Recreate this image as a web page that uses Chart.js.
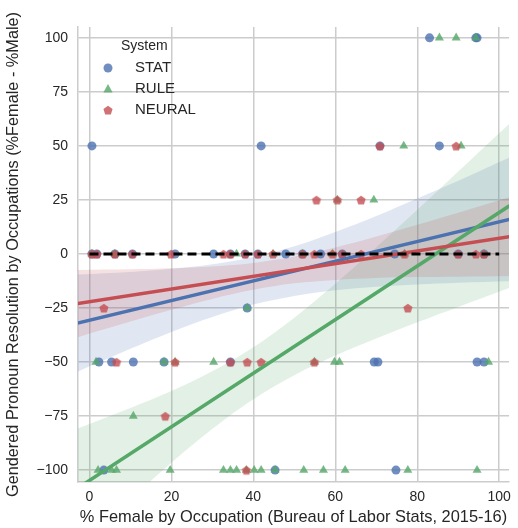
<!DOCTYPE html>
<html>
<head>
<meta charset="utf-8">
<script src="https://cdn.jsdelivr.net/npm/chart.js@4/dist/chart.umd.min.js"></script>
<style>
  html, body { margin: 0; padding: 0; background: #ffffff; }
  #wrap { width: 518px; height: 528px; }
</style>
</head>
<body>
<div id="wrap"><canvas id="chart" width="518" height="528"></canvas></div>
<script>
// ---- Data: % female in occupation vs. gendered pronoun resolution score ----
const systems = ['STAT', 'RULE', 'NEURAL'];

const statX = [83, 94.3, 94.6,
  0.6, 41.9, 70.9, 85.4,
  0.6, 1.8, 6.2, 10.5, 20.9, 30.3, 34.4, 38, 41.1, 47.9, 52, 56.4, 61.7, 74.5, 90, 96.3,
  38.5,
  2.3, 5.4, 10.7, 18.2, 34.4, 69.5, 70.4, 94.6, 96.3,
  3.5, 45.3, 74.8];
const statY = [100, 100, 100,
  50, 50, 50, 50,
  0, 0, 0, 0, 0, 0, 0, 0, 0, 0, 0, 0, 0, 0, 0, 0,
  -25,
  -50, -50, -50, -50, -50, -50, -50, -50, -50,
  -100, -100, -100];

const ruleX = [85.4, 89.5, 94.3,
  76.7, 90.7,
  60.5, 69.4,
  0.6, 6.2, 35.9, 44.8, 52, 59.3, 76.9, 96.3,
  38.5,
  1.6, 18.2, 20.9, 30.3, 54.9, 59.8, 61, 97.4,
  10.7,
  2.1, 5.4, 6.6, 19.7, 32.7, 34.4, 35.9, 38.3, 40.2, 41.9, 45.3, 52.3, 57.1, 62.4, 77.7, 94.6];
const ruleY = [100, 100, 100,
  50, 50,
  25, 25,
  0, 0, 0, 0, 0, 0, 0, 0,
  -25,
  -50, -50, -50, -50, -50, -50, -50, -50,
  -75,
  -100, -100, -100, -100, -100, -100, -100, -100, -100, -100, -100, -100, -100, -100, -100, -100];

const neuralX = [70.9, 89.5,
  55.4, 60.5, 66.3,
  0.6, 1.8, 6.2, 10.5, 19.9, 32.7, 34.4, 38, 41.1, 44.8, 52, 54.9, 59.3, 61.7, 66.3, 76.9, 90, 94.3, 96.3,
  3.5, 77.7,
  6.6, 20.9, 34.4, 38.5, 41.9, 54.9,
  18.5,
  38.3];
const neuralY = [50, 50,
  25, 25, 25,
  0, 0, 0, 0, 0, 0, 0, 0, 0, 0, 0, 0, 0, 0, 0, 0, 0, 0, 0,
  -25, -25,
  -50, -50, -50, -50, -50, -50,
  -75,
  -100];

// Linear fits (end points across the x range) and their 95% confidence bands
const fitX = [-3, 102.5];
const statFit = [-32, 16];
const ruleFit = [-108.5, 22.3];
const neuralFit = [-23, 8];

const bandX = [-3, 10, 20, 30, 40, 50, 60, 70, 80, 90, 102.5];
const statUpper = [-9.5, -8.3, -6.9, -4.8, -1.4, 3.6, 10.2, 17.6, 25.7, 33.9, 44.6];
const statLower = [-54.5, -43.9, -36.1, -29.2, -23.4, -19.4, -16.8, -15.2, -14.1, -13.3, -12.6];
const ruleUpper = [-80.9, -71.3, -63.4, -54.3, -43.2, -29.5, -13.8, 3.1, 20.4, 38.1, 60.3];
const ruleLower = [-136.1, -113.5, -96.6, -80.9, -67.2, -56.1, -47.0, -39.1, -31.6, -24.5, -15.7];
const neuralUpper = [-7.4, -7.1, -6.6, -5.8, -4.2, -1.2, 3.0, 8.1, 13.5, 19.1, 26.3];
const neuralLower = [-38.6, -31.3, -25.8, -20.8, -16.6, -13.6, -12.0, -11.1, -10.7, -10.5, -10.3];

// Parity reference line
const parityX = [0, 100];
const parityY = [0, 0];

const xTicks = [0, 20, 40, 60, 80, 100];
const yTicks = [-100, -75, -50, -25, 0, 25, 50, 75, 100];

// ---- Styling ----
const COLORS = { STAT: '76,114,176', RULE: '85,168,104', NEURAL: '196,78,82' };
const rgba = (c, a) => `rgba(${c},${a})`;
const rgb = c => `rgb(${c})`;
const FONT = "'Liberation Sans', Arial, sans-serif";
const TEXT = '#262626';

function pentagon(color, r) {
  const s = Math.ceil(2 * r + 2);
  const cv = document.createElement('canvas');
  cv.width = s; cv.height = s;
  const g = cv.getContext('2d');
  g.fillStyle = color;
  g.beginPath();
  for (let i = 0; i < 5; i++) {
    const a = -Math.PI / 2 + i * 2 * Math.PI / 5;
    const px = s / 2 + r * Math.cos(a), py = s / 2 + r * Math.sin(a) + 0.5;
    if (i) g.lineTo(px, py); else g.moveTo(px, py);
  }
  g.closePath();
  g.fill();
  return cv;
}
const pentagonMark = pentagon(rgba(COLORS.NEURAL, 0.8), 4.8);

const pts = (xs, ys) => xs.map((x, i) => ({ x, y: ys[i] }));

function scatterSet(name, xs, ys, style, radius, order) {
  return {
    type: 'scatter', label: name, data: pts(xs, ys), order,
    pointStyle: style, pointRadius: radius, pointHoverRadius: radius,
    backgroundColor: rgba(COLORS[name], 0.8), borderWidth: 0, pointBorderWidth: 0
  };
}
function fitSet(name, ys, order) {
  return {
    type: 'line', label: name + ' fit', data: pts(fitX, ys), order,
    borderColor: rgb(COLORS[name]), borderWidth: 3.5, pointRadius: 0, fill: false, tension: 0
  };
}
function bandSets(name, up, lo, order) {
  return [
    { type: 'line', label: name + ' ci upper', data: pts(bandX, up), order,
      borderWidth: 0, pointRadius: 0, tension: 0.35,
      fill: '+1', backgroundColor: rgba(COLORS[name], 0.17) },
    { type: 'line', label: name + ' ci lower', data: pts(bandX, lo), order,
      borderWidth: 0, pointRadius: 0, tension: 0.35, fill: false }
  ];
}

// Legend drawn inside the plot, upper left
const innerLegend = {
  id: 'innerLegend',
  afterDraw(chart) {
    const ctx = chart.ctx;
    ctx.save();
    ctx.fillStyle = TEXT;
    ctx.textBaseline = 'middle';
    ctx.font = `14px ${FONT}`;
    ctx.fillText('System', 121, 46);
    ctx.font = `15px ${FONT}`;
    const rows = [68, 89, 110];
    systems.forEach((s, i) => {
      const y = rows[i], x = 108;
      ctx.fillStyle = rgba(COLORS[s], 0.8);
      if (s === 'STAT') {
        ctx.beginPath(); ctx.arc(x, y, 4.5, 0, Math.PI * 2); ctx.fill();
      } else if (s === 'RULE') {
        ctx.beginPath();
        ctx.moveTo(x, y - 5); ctx.lineTo(x + 4.6, y + 3.5); ctx.lineTo(x - 4.6, y + 3.5);
        ctx.closePath(); ctx.fill();
      } else {
        ctx.drawImage(pentagonMark, x - pentagonMark.width / 2, y - pentagonMark.height / 2);
      }
      ctx.fillStyle = TEXT;
      ctx.fillText(s, 135, y);
    });
    ctx.restore();
  }
};

const minus = v => String(v).replace('-', '\u2212');

new Chart(document.getElementById('chart'), {
  data: {
    datasets: [
      { type: 'line', label: 'parity', data: pts(parityX, parityY), order: 1,
        borderColor: '#000000', borderWidth: 3, borderDash: [9, 5], pointRadius: 0, fill: false },
      fitSet('NEURAL', neuralFit, 2),
      fitSet('RULE', ruleFit, 3),
      fitSet('STAT', statFit, 4),
      scatterSet('NEURAL', neuralX, neuralY, pentagonMark, 5, 5),
      scatterSet('RULE', ruleX, ruleY, 'triangle', 5.2, 6),
      scatterSet('STAT', statX, statY, 'circle', 4.5, 7),
      ...bandSets('NEURAL', neuralUpper, neuralLower, 8),
      ...bandSets('RULE', ruleUpper, ruleLower, 9),
      ...bandSets('STAT', statUpper, statLower, 10)
    ]
  },
  options: {
    responsive: false,
    animation: false,
    events: [],
    layout: { padding: { top: 27, right: 5, left: 0, bottom: 0 } },
    plugins: { legend: { display: false }, tooltip: { enabled: false } },
    scales: {
      x: {
        type: 'linear', min: -2.8, max: 102.4,
        afterBuildTicks: a => { a.ticks = xTicks.map(v => ({ value: v })); },
        afterFit: s => { s.height = 46; },
        grid: { color: '#cccccc', lineWidth: 1.5, drawTicks: false },
        border: { display: true, color: '#cccccc', width: 1.5 },
        ticks: { color: TEXT, font: { family: FONT, size: 14 }, padding: 7, maxRotation: 0,
                 callback: v => minus(v) },
        title: { display: true, text: '% Female by Occupation (Bureau of Labor Stats, 2015-16)',
                 color: TEXT, font: { family: FONT, size: 16.4 }, padding: { top: 2, bottom: 1 } }
      },
      y: {
        type: 'linear', min: -105.5, max: 105,
        afterBuildTicks: a => { a.ticks = yTicks.map(v => ({ value: v })); },
        afterFit: s => { s.width = 78; },
        grid: { color: '#cccccc', lineWidth: 1.5, drawTicks: false },
        border: { display: true, color: '#cccccc', width: 1.5 },
        ticks: { color: TEXT, font: { family: FONT, size: 14 }, padding: 10,
                 callback: v => minus(v) },
        title: { display: true, text: 'Gendered Pronoun Resolution by Occupations (%Female - %Male)',
                 color: TEXT, font: { family: FONT, size: 16.3 }, padding: { top: 4, bottom: 4 } }
      }
    }
  },
  plugins: [innerLegend]
});
</script>
</body>
</html>
